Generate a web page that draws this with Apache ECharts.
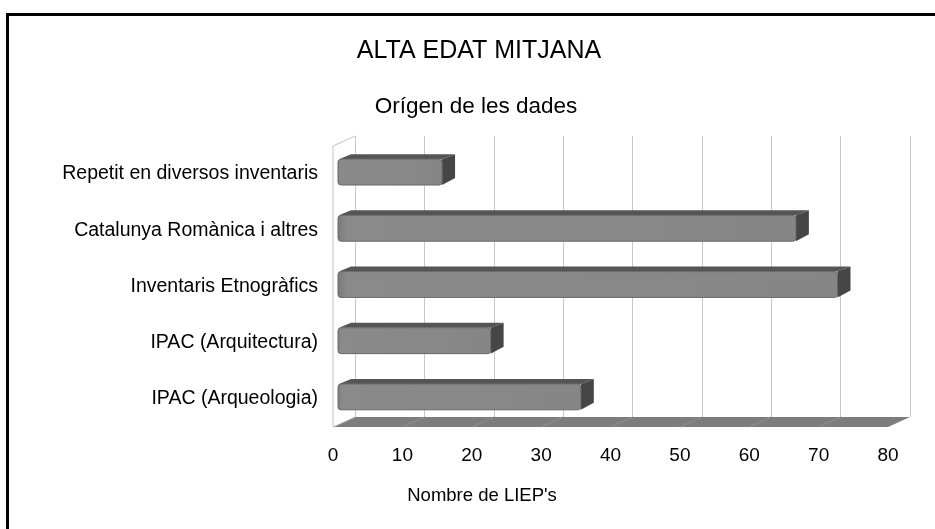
<!DOCTYPE html>
<html>
<head>
<meta charset="utf-8">
<script src="https://cdn.jsdelivr.net/npm/echarts@6/dist/echarts.min.js"></script>
<style>
  html, body { margin: 0; padding: 0; background: #ffffff; }
  #chart { width: 935px; height: 529px; }
</style>
</head>
<body>
<div id="chart"></div>
<script>
// Data
const categories = [
  'Repetit en diversos inventaris',
  'Catalunya Romànica i altres',
  'Inventaris Etnogràfics',
  'IPAC (Arquitectura)',
  'IPAC (Arqueologia)'
];
const counts = [15, 66, 72, 22, 35];
const tickValues = [0, 10, 20, 30, 40, 50, 60, 70, 80];

const titleText = 'ALTA EDAT MITJANA';
const subtitleText = 'Orígen de les dades';
const axisName = "Nombre de LIEP's";

// Look of the pseudo-3D box
const FONT = '"Liberation Sans", Arial, Helvetica, sans-serif';
const DEPTH = [22, -10];      // offset from the front plane to the back wall
const BAR_FRONT = [5, -2];    // bar front face, offset from the front plane
const BAR_DEPTH = [13, -5];   // bar thickness along the depth direction
const BAR_RATIO = 0.46;       // bar height as a share of the category band

const FRONT = { left: 333, top: 146, width: 555, height: 281 };

const chart = echarts.init(document.getElementById('chart'), null, { renderer: 'canvas' });

// Floor slab, its grid lines and the left side wall
function renderBox(params, api) {
  const cs = params.coordSys;
  const top = cs.y, bottom = cs.y + cs.height;
  const dx = DEPTH[0], dy = DEPTH[1];
  const x0 = api.coord([tickValues[0], 0])[0];
  const x1 = api.coord([tickValues[tickValues.length - 1], 0])[0];
  const children = [
    {
      type: 'polygon',
      shape: { points: [[x0, bottom], [x1, bottom], [x1 + dx, bottom + dy], [x0 + dx, bottom + dy]] },
      style: { fill: '#7d7d7d' }
    }
  ];
  tickValues.slice(1, -1).forEach(function (t) {
    const x = api.coord([t, 0])[0];
    children.push({
      type: 'line',
      shape: { x1: x, y1: bottom, x2: x + dx, y2: bottom + dy },
      style: { stroke: '#8f8f8f', lineWidth: 1 }
    });
  });
  children.push({
    type: 'polyline',
    shape: { points: [[x0 + dx, bottom + dy], [x0, bottom], [x0, top], [x0 + dx, top + dy]] },
    style: { stroke: '#c4c4c4', lineWidth: 1, fill: null }
  });
  return { type: 'group', children: children };
}

// One slab per category
function renderBar(params, api) {
  const v = api.value(0);
  const c = api.value(1);
  const start = api.coord([0, c]);
  const end = api.coord([v, c]);
  const half = api.size([0, 1])[1] * BAR_RATIO / 2;
  const xl = start[0] + BAR_FRONT[0];
  const xr = end[0] + BAR_FRONT[0];
  const yc = start[1] + BAR_FRONT[1];
  const t = yc - half, b = yc + half;
  const dx = BAR_DEPTH[0], dy = BAR_DEPTH[1];
  return {
    type: 'group',
    children: [
      {
        type: 'polygon',
        shape: { points: [[xl + 1, t], [xl + dx, t + dy], [xr + dx, t + dy], [xr, t]] },
        style: { fill: '#555555' }
      },
      {
        type: 'polygon',
        shape: { points: [[xr, t], [xr + dx, t + dy], [xr + dx, b + dy - 2], [xr, b]] },
        style: { fill: '#464646' }
      },
      {
        type: 'rect',
        shape: { x: xl, y: t, width: xr - xl, height: b - t, r: 3 },
        style: {
          fill: {
            type: 'linear', x: 0, y: 0, x2: 1, y2: 0,
            colorStops: [
              { offset: 0, color: '#7a7a7a' },
              { offset: 0.02, color: '#8a8a8a' },
              { offset: 1, color: '#868686' }
            ]
          },
          stroke: '#6a6a6a',
          lineWidth: 1
        }
      }
    ]
  };
}

const option = {
  backgroundColor: '#ffffff',
  animation: false,
  textStyle: { fontFamily: FONT },
  grid: [
    { left: FRONT.left, top: FRONT.top, width: FRONT.width, height: FRONT.height },
    { left: FRONT.left + DEPTH[0], top: FRONT.top + DEPTH[1], width: FRONT.width, height: FRONT.height }
  ],
  xAxis: [
    {
      gridIndex: 0, type: 'value', min: 0, max: 80, interval: 10,
      axisLine: { show: false }, axisTick: { show: false }, splitLine: { show: false },
      axisLabel: { color: '#000000', fontSize: 19, fontFamily: FONT, margin: 19 }
    },
    {
      gridIndex: 1, type: 'value', min: 0, max: 80, interval: 10,
      axisLine: { show: false }, axisTick: { show: false }, axisLabel: { show: false },
      splitLine: { show: true, lineStyle: { color: '#c8c8c8', width: 1 } }
    }
  ],
  yAxis: [
    {
      gridIndex: 0, type: 'category', inverse: true, data: categories,
      axisLine: { show: false }, axisTick: { show: false }, splitLine: { show: false },
      axisLabel: { color: '#000000', fontSize: 19.5, fontFamily: FONT, margin: 15 }
    },
    {
      gridIndex: 1, type: 'category', inverse: true, data: categories, show: false
    }
  ],
  series: [
    {
      type: 'custom', xAxisIndex: 0, yAxisIndex: 0,
      data: [[0, 0]],
      renderItem: renderBox, silent: true, z: 1
    },
    {
      type: 'custom', xAxisIndex: 0, yAxisIndex: 0,
      data: counts.map(function (v, i) { return [v, i]; }),
      encode: { x: 0, y: 1 },
      renderItem: renderBar, z: 2
    }
  ],
  graphic: [
    {
      type: 'rect', left: 5, top: 12,
      shape: { width: 940, height: 530 },
      style: { fill: null, stroke: '#000000', lineWidth: 3 }, z: 10
    },
    {
      type: 'text', x: 479, y: 51,
      style: { text: titleText, font: '25px ' + FONT, fill: '#000000', align: 'center', verticalAlign: 'middle' }
    },
    {
      type: 'text', x: 476, y: 107,
      style: { text: subtitleText, font: '22.5px ' + FONT, fill: '#000000', align: 'center', verticalAlign: 'middle' }
    },
    {
      type: 'text', x: 482, y: 496,
      style: { text: axisName, font: '18.5px ' + FONT, fill: '#000000', align: 'center', verticalAlign: 'middle' }
    }
  ]
};

chart.setOption(option);
</script>
</body>
</html>
